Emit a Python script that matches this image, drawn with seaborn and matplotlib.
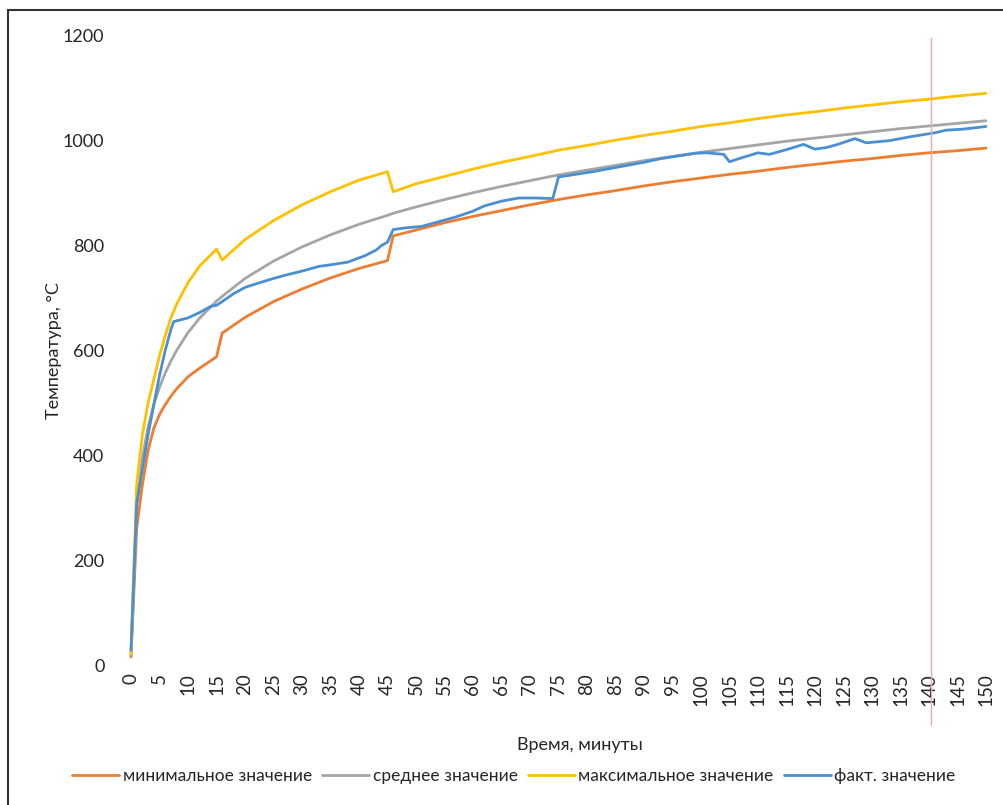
import matplotlib
matplotlib.use("Agg")
import matplotlib.pyplot as plt
import seaborn as sns
from matplotlib.patches import Rectangle
from matplotlib.lines import Line2D

sns.set_theme(style="white")
plt.rcParams["font.family"] = ["Lato", "DejaVu Sans"]

# Time axis for the tolerance curves (minutes)
t_curve = [0, 1, 2, 3, 4, 5, 6, 7, 8, 10, 12, 15, 16, 20, 25, 30, 35, 40, 45, 46,
           50, 55, 60, 65, 70, 75, 80, 85, 90, 95, 100, 105, 110, 115, 120, 125,
           130, 135, 140, 145, 150]

# Temperature curves, °C
t_min = [17, 262, 345, 410, 452, 478, 497, 513, 527, 550, 566, 588, 633, 663, 693,
         717, 738, 756, 771, 818, 829, 843, 855, 866, 877, 887, 896, 904, 913, 921,
         928, 935, 941, 948, 954, 960, 965, 971, 976, 980, 985]
t_mean = [20, 300, 395, 455, 497, 530, 557, 580, 600, 634, 661, 694, 703, 737, 770,
          797, 820, 840, 857, 861, 873, 887, 900, 912, 923, 934, 943, 952, 961, 969,
          977, 984, 991, 998, 1004, 1010, 1016, 1022, 1027, 1032, 1037]
t_max = [23, 345, 440, 500, 545, 590, 628, 662, 688, 729, 760, 793, 772, 811, 847,
         877, 902, 924, 940, 902, 917, 931, 945, 958, 969, 981, 990, 1000, 1009, 1017,
         1026, 1033, 1041, 1048, 1054, 1061, 1067, 1073, 1078, 1084, 1089]

# Measured furnace temperature
t_fact_time = [0, 1, 2, 3, 4, 5, 6, 7, 7.5, 10, 12, 14, 15, 16, 18, 20, 22, 25, 27, 30,
               33, 35, 38, 41, 43, 44, 45, 46, 48, 51, 54, 57, 60, 62, 65, 68, 71, 74,
               75, 78, 81, 84, 87, 90, 93, 96, 99, 101, 104, 105, 107, 110, 112, 115,
               118, 120, 122, 124, 127, 129, 133, 137, 141, 143, 146, 150]
t_fact = [30, 310, 375, 440, 497, 552, 600, 640, 655, 662, 672, 684, 686, 693, 708,
          720, 727, 737, 743, 751, 760, 763, 768, 780, 791, 800, 806, 830, 833, 836,
          845, 854, 865, 875, 884, 890, 890, 889, 930, 935, 940, 946, 952, 958, 965,
          970, 975, 976, 973, 959, 966, 976, 973, 982, 992, 983, 986, 992, 1003, 995,
          999, 1007, 1014, 1019, 1021, 1026]

x_ticks = list(range(0, 151, 5))
y_ticks = list(range(0, 1201, 200))

series = [
    ("минимальное значение", t_curve, t_min, "#ED7D31"),
    ("среднее значение", t_curve, t_mean, "#A5A5A5"),
    ("максимальное значение", t_curve, t_max, "#FFC000"),
    ("факт. значение", t_fact_time, t_fact, "#4a8fd2"),
]

fig = plt.figure(figsize=(10.04, 8.05), dpi=100)
ax = fig.add_axes([0.1248, 0.1727, 0.8629, 0.7838])

handles = []
for name, xs, ys, col in series:
    sns.lineplot(x=xs, y=ys, ax=ax, color=col, linewidth=2.0, estimator=None,
                 sort=False, legend=False)
    handles.append(Line2D([0], [0], color=col, linewidth=2.0, label=name))

ax.set_xlim(-1, 151)
ax.set_ylim(0, 1200)
ax.set_xticks(x_ticks)
ax.set_xticklabels([str(v) for v in x_ticks], rotation=90, fontsize=13.5)
ax.set_yticks(y_ticks)
ax.set_yticklabels([str(v) for v in y_ticks], fontsize=13)
ax.tick_params(axis="y", length=0, pad=15)
ax.tick_params(axis="x", length=0, pad=5)
for s in ax.spines.values():
    s.set_visible(False)
ax.grid(False)

ax.set_ylabel("Температура, °С", fontsize=13)
ax.yaxis.set_label_coords(-0.073, 0.5)
fig.text(0.578, 0.074, "Время, минуты", fontsize=13, ha="center", va="center")

fig.legend(handles=handles, loc="center", bbox_to_anchor=(0.512, 0.036), ncol=4,
           frameon=False, fontsize=12.5, handlelength=2.7, columnspacing=0.6,
           handletextpad=0.2)

# outer chart frame
fig.patches.append(Rectangle((8 / 1004, -0.05), 1.2, 1 - 10 / 805 + 0.05,
                             transform=fig.transFigure, fill=False,
                             edgecolor="#333333", linewidth=1.5))
# thin vertical margin line
fig.lines.append(Line2D([931 / 1004, 931 / 1004], [1 - 38 / 805, 1 - 725 / 805],
                        transform=fig.transFigure, color="#f3a6b8", linewidth=1.0))

fig.savefig("out.png", dpi=100)
